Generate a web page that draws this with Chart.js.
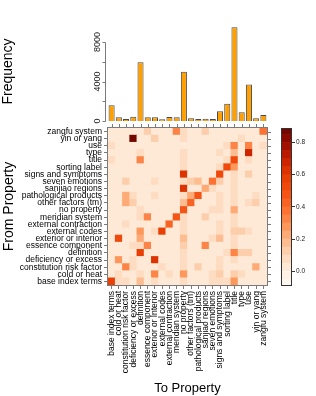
<!DOCTYPE html>
<html>
<head>
<meta charset="utf-8">
<script src="https://cdn.jsdelivr.net/npm/chart.js@4.4.1/dist/chart.umd.min.js"></script>
<style>
  html, body { margin: 0; padding: 0; background: #fff; }
  #wrap { position: relative; width: 316px; height: 396px; }
  #wrap canvas { position: absolute; left: 0; top: 0; }
</style>
</head>
<body>
<div id="wrap">
  <canvas id="heatChart" width="316" height="396"></canvas>
  <canvas id="freqChart" width="316" height="396"></canvas>
  <canvas id="keyChart" width="316" height="396"></canvas>
</div>
<script>
// ===== property transition heatmap =====

// columns (To Property), left to right
const toLabels = ['base index terms', 'cold or heat', 'constitution risk factor', 'deficiency or excess',
    'definition', 'essence component', 'exterior or interior', 'external codes', 'external contraction',
    'meridian system', 'no property', 'other factors (tm)', 'pathological products', 'sanjiao regions',
    'seven emotions', 'signs and symptoms', 'sorting label', 'title', 'type', 'use', 'yin or yang', 'zangfu system'];

// rows (From Property), bottom to top
const fromLabels = toLabels.slice();

// frequency of each "to" property
const frequency = [1600, 370, 200, 440, 5950, 370, 370, 170, 400, 370, 5000, 270, 200, 240, 200, 980, 1750, 9500, 880, 3700, 270, 610];
const freqTicks = [0, 2000, 4000, 6000, 8000];
const freqLabelled = [0, 4000, 8000];

// transition proportions, one row per "from" property (bottom row first)
const rowBase        = [0.55, 0.05, 0.06, 0.04, 0.18, 0.03, 0.05, 0.03, 0.04, 0.03, 0.06, 0.03, 0.04, 0.03, 0.05, 0.08, 0.06, 0.28, 0.04, 0.03, 0.03, 0.02];
const rowCold        = [0.04, 0.05, 0.03, 0.04, 0.06, 0.03, 0.30, 0.03, 0.05, 0.03, 0.25, 0.04, 0.03, 0.04, 0.06, 0.10, 0.04, 0.10, 0.05, 0.03, 0.04, 0.02];
const rowConstit     = [0.04, 0.04, 0.32, 0.05, 0.03, 0.04, 0.04, 0.06, 0.03, 0.04, 0.05, 0.03, 0.10, 0.03, 0.04, 0.05, 0.03, 0.04, 0.03, 0.03, 0.20, 0.02];
const rowDeficiency  = [0.03, 0.25, 0.04, 0.05, 0.04, 0.03, 0.60, 0.03, 0.04, 0.03, 0.05, 0.04, 0.03, 0.04, 0.03, 0.06, 0.04, 0.05, 0.03, 0.04, 0.03, 0.02];
const rowDefinition  = [0.04, 0.03, 0.04, 0.03, 0.55, 0.04, 0.03, 0.04, 0.03, 0.04, 0.05, 0.03, 0.04, 0.03, 0.04, 0.04, 0.05, 0.32, 0.10, 0.10, 0.03, 0.02];
const rowEssence     = [0.03, 0.04, 0.03, 0.05, 0.08, 0.30, 0.04, 0.03, 0.04, 0.03, 0.10, 0.04, 0.03, 0.33, 0.04, 0.03, 0.04, 0.06, 0.03, 0.04, 0.03, 0.02];
const rowExterior    = [0.04, 0.50, 0.04, 0.03, 0.20, 0.03, 0.04, 0.03, 0.04, 0.03, 0.18, 0.03, 0.04, 0.03, 0.05, 0.15, 0.03, 0.05, 0.04, 0.03, 0.03, 0.02];
const rowExtCodes    = [0.03, 0.04, 0.03, 0.04, 0.25, 0.03, 0.06, 0.55, 0.04, 0.03, 0.05, 0.04, 0.03, 0.04, 0.03, 0.05, 0.04, 0.10, 0.10, 0.08, 0.03, 0.02];
const rowExtContr    = [0.04, 0.03, 0.08, 0.03, 0.04, 0.03, 0.04, 0.03, 0.40, 0.04, 0.05, 0.03, 0.04, 0.03, 0.04, 0.05, 0.03, 0.06, 0.04, 0.03, 0.04, 0.02];
const rowMeridian    = [0.03, 0.04, 0.03, 0.04, 0.05, 0.30, 0.04, 0.03, 0.04, 0.45, 0.06, 0.03, 0.04, 0.12, 0.03, 0.04, 0.03, 0.05, 0.03, 0.04, 0.03, 0.02];
const rowNoProperty  = [0.04, 0.03, 0.04, 0.03, 0.08, 0.03, 0.04, 0.03, 0.04, 0.03, 0.45, 0.04, 0.03, 0.04, 0.05, 0.08, 0.04, 0.22, 0.04, 0.03, 0.04, 0.02];
const rowOther       = [0.04, 0.03, 0.22, 0.12, 0.04, 0.03, 0.04, 0.03, 0.04, 0.03, 0.15, 0.42, 0.04, 0.03, 0.04, 0.05, 0.03, 0.06, 0.04, 0.05, 0.12, 0.02];
const rowPatho       = [0.03, 0.04, 0.20, 0.05, 0.04, 0.03, 0.05, 0.03, 0.04, 0.03, 0.06, 0.20, 0.45, 0.04, 0.03, 0.05, 0.04, 0.05, 0.03, 0.04, 0.05, 0.02];
const rowSanjiao     = [0.04, 0.03, 0.04, 0.03, 0.04, 0.03, 0.04, 0.03, 0.03, 0.04, 0.62, 0.03, 0.04, 0.20, 0.06, 0.04, 0.03, 0.05, 0.04, 0.03, 0.04, 0.02];
const rowSeven       = [0.03, 0.04, 0.10, 0.04, 0.03, 0.04, 0.08, 0.03, 0.04, 0.03, 0.05, 0.12, 0.15, 0.04, 0.38, 0.12, 0.04, 0.06, 0.03, 0.04, 0.03, 0.02];
const rowSigns       = [0.04, 0.03, 0.04, 0.03, 0.04, 0.03, 0.04, 0.03, 0.04, 0.03, 0.60, 0.04, 0.03, 0.04, 0.03, 0.50, 0.04, 0.06, 0.04, 0.10, 0.03, 0.02];
const rowSorting     = [0.03, 0.04, 0.03, 0.04, 0.03, 0.04, 0.03, 0.04, 0.03, 0.04, 0.05, 0.03, 0.04, 0.03, 0.04, 0.05, 0.52, 0.25, 0.04, 0.03, 0.04, 0.02];
const rowTitle       = [0.08, 0.04, 0.03, 0.04, 0.30, 0.03, 0.04, 0.03, 0.04, 0.03, 0.05, 0.04, 0.03, 0.04, 0.03, 0.04, 0.05, 0.52, 0.04, 0.05, 0.03, 0.02];
const rowType        = [0.04, 0.03, 0.04, 0.03, 0.08, 0.04, 0.03, 0.04, 0.03, 0.04, 0.05, 0.03, 0.04, 0.03, 0.04, 0.05, 0.04, 0.18, 0.04, 0.65, 0.04, 0.02];
const rowUse         = [0.05, 0.03, 0.04, 0.03, 0.04, 0.03, 0.04, 0.03, 0.04, 0.03, 0.04, 0.03, 0.04, 0.03, 0.04, 0.04, 0.05, 0.32, 0.04, 0.30, 0.03, 0.05];
const rowYinYang     = [0.03, 0.04, 0.03, 0.89, 0.04, 0.04, 0.10, 0.03, 0.04, 0.03, 0.05, 0.03, 0.04, 0.03, 0.04, 0.03, 0.04, 0.04, 0.05, 0.03, 0.04, 0.02];
const rowZangfu      = [0.04, 0.03, 0.04, 0.03, 0.04, 0.14, 0.03, 0.04, 0.03, 0.30, 0.08, 0.03, 0.04, 0.10, 0.03, 0.04, 0.03, 0.04, 0.03, 0.04, 0.03, 0.38];

const heatRows = [rowBase, rowCold, rowConstit, rowDeficiency, rowDefinition, rowEssence, rowExterior,
    rowExtCodes, rowExtContr, rowMeridian, rowNoProperty, rowOther, rowPatho, rowSanjiao, rowSeven,
    rowSigns, rowSorting, rowTitle, rowType, rowUse, rowYinYang, rowZangfu];

// colour key
const keyBreaks = [-0.1, -0.05, 0, 0.05, 0.1, 0.15, 0.2, 0.25, 0.3, 0.35, 0.4, 0.45, 0.5, 0.55, 0.6, 0.65, 0.7, 0.75, 0.8, 0.85, 0.9];
const keyTicks = [0, 0.2, 0.4, 0.6, 0.8];
const keyMin = -0.092;
const keyMax = 0.89;

const rampStops = [-0.1, 0, 0.1, 0.2, 0.3, 0.4, 0.5, 0.6, 0.7, 0.8, 0.9];
const rampRGB = [[255, 250, 245], [254, 238, 224], [253, 214, 184], [253, 180, 130], [253, 141, 80],
    [250, 105, 40], [242, 78, 16], [228, 58, 0], [196, 30, 0], [150, 12, 0], [105, 5, 0]];

const FONT = "'Liberation Sans', Arial, sans-serif";
const frameGrey = '#7a7a7a';

function rampColour(v) {
    let i = 0;
    while (i < rampStops.length - 2 && v > rampStops[i + 1]) i++;
    const t = Math.min(1, Math.max(0, (v - rampStops[i]) / (rampStops[i + 1] - rampStops[i])));
    const a = rampRGB[i], b = rampRGB[i + 1];
    const c = a.map((ch, k) => Math.round(ch + (b[k] - ch) * t));
    return `rgb(${c[0]}, ${c[1]}, ${c[2]})`;
}

// quantise to the key's bins like levelplot does
function binColour(v) {
    let i = 0;
    while (i < keyBreaks.length - 2 && v >= keyBreaks[i + 1]) i++;
    return rampColour((keyBreaks[i] + keyBreaks[i + 1]) / 2);
}

// --- heatmap extras: frame + ticks on top and right
const heatFrame = {
    id: 'heatFrame',
    afterDraw(chart) {
        const { ctx, chartArea: a, scales: { x, y } } = chart;
        ctx.save();
        ctx.strokeStyle = frameGrey;
        ctx.lineWidth = 1;
        ctx.strokeRect(a.left - 0.5, a.top - 0.5, a.right - a.left + 1, a.bottom - a.top + 1);
        ctx.beginPath();
        toLabels.forEach((_, i) => {
            const px = Math.round(x.getPixelForValue(i)) + 0.5;
            ctx.moveTo(px, a.top - 1);
            ctx.lineTo(px, a.top - 4);
        });
        y.ticks.forEach(t => {
            const py = Math.round(y.getPixelForValue(t.value)) + 0.5;
            ctx.moveTo(a.right + 1, py);
            ctx.lineTo(a.right + 4, py);
        });
        ctx.stroke();
        ctx.restore();
    }
};

new Chart(document.getElementById('heatChart'), {
    type: 'bar',
    data: {
        labels: toLabels,
        datasets: heatRows.map((row, j) => ({
            label: fromLabels[j],
            data: row.map(() => 1),
            backgroundColor: row.map(binColour),
            borderWidth: 0,
            barPercentage: 1,
            categoryPercentage: 1,
            stack: 'heat'
        }))
    },
    options: {
        responsive: false,
        animation: false,
        devicePixelRatio: 1,
        layout: { padding: { left: 0, right: 49, top: 128, bottom: 0 } },
        plugins: { legend: { display: false }, tooltip: { enabled: false } },
        scales: {
            x: {
                stacked: true,
                afterFit: scale => { scale.height = 111; },
                grid: { offset: false, drawOnChartArea: false, tickLength: 4, color: frameGrey },
                border: { color: frameGrey },
                ticks: {
                    autoSkip: false, minRotation: 90, maxRotation: 90, padding: 2,
                    color: '#000', font: { family: FONT, size: 8.5 }
                },
                title: {
                    display: true, text: 'To Property', color: '#000',
                    font: { family: FONT, size: 13 }, padding: { top: 0, bottom: 0 }
                }
            },
            y: {
                stacked: true,
                min: 0,
                max: fromLabels.length,
                afterFit: scale => { scale.width = 108; },
                afterBuildTicks: scale => { scale.ticks = fromLabels.map((_, i) => ({ value: i + 0.5 })); },
                grid: { drawOnChartArea: false, tickLength: 4, color: frameGrey },
                border: { color: frameGrey },
                ticks: {
                    autoSkip: false, padding: 2, color: '#000', font: { family: FONT, size: 8.5 },
                    callback: (value, index) => fromLabels[index]
                },
                title: {
                    display: true, text: 'From Property', color: '#000',
                    font: { family: FONT, size: 14 }, padding: { top: 0.5, bottom: 0 }
                }
            }
        }
    },
    plugins: [heatFrame]
});

// --- frequency bars on top, with an R-style axis
const freqAxis = {
    id: 'freqAxis',
    afterDraw(chart) {
        const { ctx, chartArea: a, scales: { y } } = chart;
        const ax = a.left - 2.5;
        ctx.save();
        ctx.strokeStyle = frameGrey;
        ctx.lineWidth = 1;
        ctx.beginPath();
        ctx.moveTo(ax, Math.round(y.getPixelForValue(freqTicks[0])) + 0.5);
        ctx.lineTo(ax, Math.round(y.getPixelForValue(freqTicks[freqTicks.length - 1])) + 0.5);
        freqTicks.forEach(v => {
            const py = Math.round(y.getPixelForValue(v)) + 0.5;
            ctx.moveTo(ax, py);
            ctx.lineTo(ax - 3, py);
        });
        ctx.stroke();
        ctx.fillStyle = '#222';
        ctx.font = `9px ${FONT}`;
        ctx.textAlign = 'center';
        ctx.textBaseline = 'middle';
        freqLabelled.forEach(v => {
            ctx.save();
            ctx.translate(ax - 8, y.getPixelForValue(v));
            ctx.rotate(-Math.PI / 2);
            ctx.fillText(String(v), 0, 0);
            ctx.restore();
        });
        ctx.fillStyle = '#000';
        ctx.font = `14px ${FONT}`;
        ctx.save();
        ctx.translate(8.4, 71.5);
        ctx.rotate(-Math.PI / 2);
        ctx.fillText('Frequency', 0, 0);
        ctx.restore();
        ctx.restore();
    }
};

new Chart(document.getElementById('freqChart'), {
    type: 'bar',
    data: {
        labels: toLabels,
        datasets: [{
            label: 'Frequency',
            data: frequency,
            backgroundColor: '#FFA000',
            borderColor: '#4a4a4a',
            borderWidth: 1,
            barPercentage: 0.84,
            categoryPercentage: 1,
            clip: false
        }]
    },
    options: {
        responsive: false,
        animation: false,
        devicePixelRatio: 1,
        layout: { padding: { left: 108, right: 49, top: 42, bottom: 275 } },
        plugins: { legend: { display: false }, tooltip: { enabled: false } },
        scales: {
            x: { display: false },
            y: { display: false, min: 0, max: 8000 }
        }
    },
    plugins: [freqAxis]
});

// --- colour key
const keyFrame = {
    id: 'keyFrame',
    afterDraw(chart) {
        const { ctx, chartArea: a } = chart;
        ctx.save();
        ctx.strokeStyle = '#333';
        ctx.lineWidth = 1;
        ctx.strokeRect(a.left + 0.5, a.top + 0.5, a.right - a.left - 1, a.bottom - a.top - 1);
        ctx.restore();
    }
};

new Chart(document.getElementById('keyChart'), {
    type: 'bar',
    data: {
        labels: [''],
        datasets: keyBreaks.slice(0, -1).map((lo, i) => ({
            data: [[lo, keyBreaks[i + 1]]],
            backgroundColor: rampColour((lo + keyBreaks[i + 1]) / 2),
            borderWidth: 0,
            barPercentage: 1,
            categoryPercentage: 1,
            grouped: false
        }))
    },
    options: {
        responsive: false,
        animation: false,
        devicePixelRatio: 1,
        layout: { padding: { left: 281, right: 0, top: 128, bottom: 110 } },
        plugins: { legend: { display: false }, tooltip: { enabled: false } },
        scales: {
            x: { display: false },
            y: {
                position: 'right',
                min: keyMin,
                max: keyMax,
                afterFit: scale => { scale.width = 24; },
                afterBuildTicks: scale => { scale.ticks = keyTicks.map(v => ({ value: v })); },
                grid: { drawOnChartArea: false, tickLength: 3, color: '#333' },
                border: { display: false },
                ticks: {
                    padding: 1, color: '#222', font: { family: FONT, size: 6.5 },
                    callback: v => v.toFixed(1)
                }
            }
        }
    },
    plugins: [keyFrame]
});
</script>
</body>
</html>
